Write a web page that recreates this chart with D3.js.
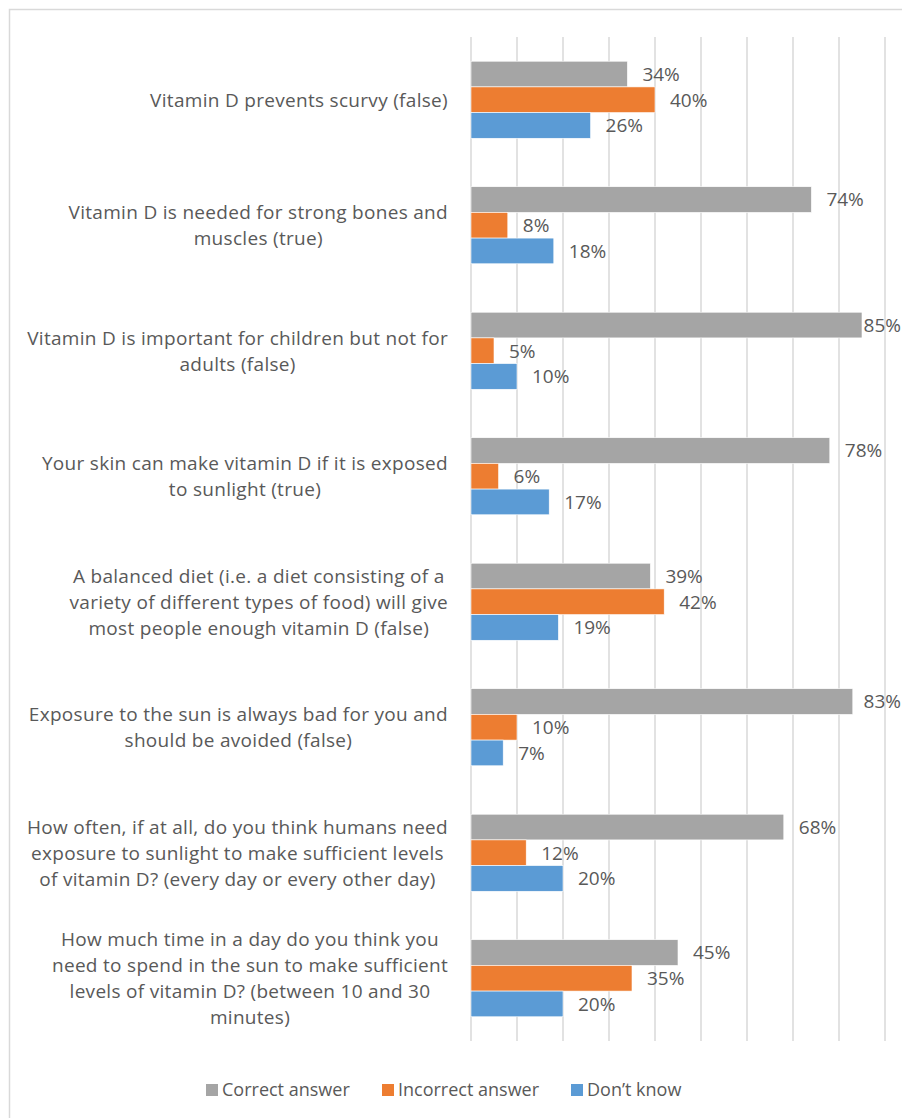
<!DOCTYPE html>
<html>
<head>
<meta charset="utf-8">
<script src="https://cdn.jsdelivr.net/npm/d3@7"></script>
<style>
  body { margin: 0; background: #fff; }
  text { font-family: "Open Sans", sans-serif; fill: #595959; }
</style>
</head>
<body>
<svg id="chart" width="902" height="1118"></svg>
<script>
// questions, each one already split into the lines shown on the axis
const categories = [
  ["Vitamin D prevents scurvy (false)"],
  ["Vitamin D is needed for strong bones and", "muscles (true)"],
  ["Vitamin D is important for children but not for", "adults (false)"],
  ["Your skin can make vitamin D if it is exposed", "to sunlight (true)"],
  ["A balanced diet (i.e. a diet consisting of a", "variety of different types of food) will give", "most people enough vitamin D (false)"],
  ["Exposure to the sun is always bad for you and", "should be avoided (false)"],
  ["How often, if at all, do you think humans need", "exposure to sunlight to make sufficient levels", "of vitamin D? (every day or every other day)"],
  ["How much time in a day do you think you", "need to spend in the sun to make sufficient", "levels of vitamin D? (between 10 and 30", "minutes)"]
];
const seriesNames = ["Correct answer", "Incorrect answer", "Don\u2019t know"];
const correct   = [34, 74, 85, 78, 39, 83, 68, 45];
const incorrect = [40, 8, 5, 6, 42, 10, 12, 35];
const dontKnow  = [26, 18, 10, 17, 19, 7, 20, 20];
const colors = ["#A5A5A5", "#ED7D31", "#5B9BD5"];
const xTicks = [0, 10, 20, 30, 40, 50, 60, 70, 80, 90];

const W = 902;
const svg = d3.select("#chart");

// chart frame
svg.append("rect")
  .attr("x", 9.5).attr("y", 9.5)
  .attr("width", 920).attr("height", 1140)
  .attr("fill", "none").attr("stroke", "#D9D9D9").attr("stroke-width", 1.5);

const x = d3.scaleLinear().domain([0, 90]).range([471, 885]);
const y = d3.scaleBand().domain(d3.range(categories.length)).range([37, 1041]).paddingInner(0.386).paddingOuter(0.193);
const ySub = d3.scaleBand().domain([0, 1, 2]).range([0, y.bandwidth()]);

// vertical gridlines
svg.append("g").selectAll("line")
  .data(xTicks)
  .join("line")
  .attr("x1", d => x(d)).attr("x2", d => x(d))
  .attr("y1", 37).attr("y2", 1041)
  .attr("stroke", "#D9D9D9").attr("stroke-width", 1.5);

const values = [correct, incorrect, dontKnow];
const rows = [];
categories.forEach((c, i) => {
  values.forEach((s, j) => rows.push({ cat: i, series: j, value: s[i] }));
});

// bars
svg.append("g").selectAll("rect")
  .data(rows)
  .join("rect")
  .attr("x", x(0))
  .attr("y", d => y(d.cat) + ySub(d.series))
  .attr("width", d => x(d.value) - x(0))
  .attr("height", ySub.bandwidth())
  .attr("fill", d => colors[d.series])
  .attr("stroke", "#fff").attr("stroke-width", 0.6);

// data labels, pulled back in when they would run off the right edge
svg.append("g").selectAll("text")
  .data(rows)
  .join("text")
  .attr("y", d => y(d.cat) + ySub(d.series) + ySub.bandwidth() / 2)
  .attr("dy", "0.36em")
  .attr("font-size", 19)
  .text(d => d.value + "%")
  .attr("x", function (d) {
    const w = this.getComputedTextLength();
    return Math.min(x(d.value) + 15, W - w - 1);
  });

// category labels: lines centred, block right edge at 448
const lineH = 26;
const labels = svg.append("g").selectAll("text")
  .data(categories)
  .join("text")
  .attr("text-anchor", "middle")
  .attr("font-size", 19)
  .attr("letter-spacing", 0.3)
  .attr("y", (d, i) => y(i) + y.bandwidth() / 2 - (d.length - 1) * lineH / 2);
labels.selectAll("tspan")
  .data(d => d)
  .join("tspan")
  .attr("dy", (d, k) => k === 0 ? "0.36em" : lineH)
  .text(d => d);
labels.each(function () {
  const spans = d3.select(this).selectAll("tspan");
  let w = 0;
  spans.each(function () { w = Math.max(w, this.getComputedTextLength()); });
  spans.attr("x", 448 - w / 2);
});

// legend
const legendX = [206, 382, 571];
const legend = svg.append("g").selectAll("g")
  .data(seriesNames)
  .join("g")
  .attr("transform", (d, i) => `translate(${legendX[i]},1090)`);
legend.append("rect")
  .attr("x", 0).attr("y", -6)
  .attr("width", 12).attr("height", 12)
  .attr("fill", (d, i) => colors[i]);
legend.append("text")
  .attr("x", 16).attr("dy", "0.36em")
  .attr("font-size", 18)
  .text(d => d);
</script>
</body>
</html>
